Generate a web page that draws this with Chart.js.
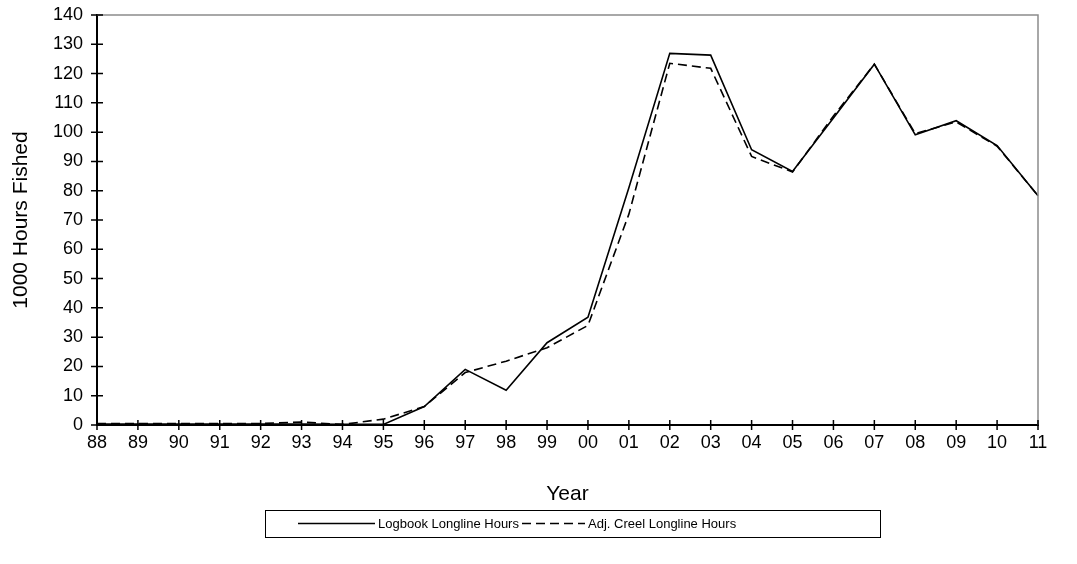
<!DOCTYPE html>
<html>
<head>
<meta charset="utf-8">
<script src="https://cdn.jsdelivr.net/npm/chart.js@4.4.1/dist/chart.umd.min.js"></script>
<style>
  html, body { margin: 0; padding: 0; background: #ffffff; }
  #wrap { width: 1077px; height: 564px; }
</style>
</head>
<body>
<div id="wrap"><canvas id="c" width="1077" height="564"></canvas></div>
<script>
const years = ['88','89','90','91','92','93','94','95','96','97','98','99','00','01','02','03','04','05','06','07','08','09','10','11'];
const logbookHours = [0.3,0.3,0.3,0.3,0.3,0.3,0.2,0.2,6.3,19.0,11.9,28.1,36.8,81.0,126.9,126.3,94.0,86.6,104.8,123.2,99.1,103.9,95.4,78.3];
const creelHours = [0.5,0.5,0.5,0.5,0.5,1.0,0.2,2.0,6.3,17.9,21.8,26.4,34.0,72.0,123.5,121.8,91.7,86.4,105.5,123.2,99.5,103.5,95.2,78.3];
const yMin = 0, yMax = 140, yStep = 10;
const seriesNames = ['Logbook Longline Hours', 'Adj. Creel Longline Hours'];

const FONT = "'Liberation Sans', Arial, sans-serif";

const frame = {
  id: 'frame',
  afterDraw(chart) {
    const ctx = chart.ctx, a = chart.chartArea;
    const xs = chart.scales.x, ys = chart.scales.y;
    ctx.save();
    // gray top/right border
    ctx.strokeStyle = '#8c8c8c';
    ctx.lineWidth = 1.5;
    ctx.beginPath();
    ctx.moveTo(a.left, a.top);
    ctx.lineTo(a.right, a.top);
    ctx.lineTo(a.right, a.bottom);
    ctx.stroke();
    // crossing tick marks
    ctx.strokeStyle = '#000';
    ctx.lineWidth = 1.5;
    ctx.beginPath();
    xs.ticks.forEach((t, i) => {
      const px = xs.getPixelForTick(i);
      ctx.moveTo(px, a.bottom - 5);
      ctx.lineTo(px, a.bottom + 5);
    });
    ys.ticks.forEach((t, i) => {
      const py = ys.getPixelForTick(i);
      ctx.moveTo(a.left - 6, py);
      ctx.lineTo(a.left + 6, py);
    });
    ctx.stroke();

    // legend (drawn from the datasets' own labels and dash styles)
    const box = { left: 265, top: 510, width: 615, height: 27 };
    const cy = box.top + box.height / 2;
    const entries = [
      { lineFrom: 298, lineTo: 375, textX: 378 },
      { lineFrom: 522, lineTo: 585, textX: 588 }
    ];
    ctx.lineWidth = 1;
    ctx.strokeStyle = '#000';
    ctx.setLineDash([]);
    ctx.strokeRect(box.left + 0.5, box.top + 0.5, box.width, box.height);
    ctx.font = '13px ' + FONT;
    ctx.fillStyle = '#000';
    ctx.textBaseline = 'middle';
    ctx.textAlign = 'left';
    chart.data.datasets.forEach((ds, i) => {
      const e = entries[i];
      ctx.save();
      ctx.lineWidth = ds.borderWidth;
      ctx.strokeStyle = ds.borderColor;
      ctx.setLineDash(ds.borderDash || []);
      ctx.beginPath();
      ctx.moveTo(e.lineFrom, cy);
      ctx.lineTo(e.lineTo, cy);
      ctx.stroke();
      ctx.restore();
      ctx.fillText(ds.label, e.textX, cy + 0.5);
    });
    ctx.restore();
  }
};

new Chart(document.getElementById('c'), {
  type: 'line',
  data: {
    labels: years,
    datasets: [
      {
        label: seriesNames[0],
        data: logbookHours,
        borderColor: '#000',
        backgroundColor: '#000',
        borderWidth: 1.6,
        pointRadius: 0,
        tension: 0,
        fill: false
      },
      {
        label: seriesNames[1],
        data: creelHours,
        borderColor: '#000',
        backgroundColor: '#000',
        borderWidth: 1.6,
        borderDash: [9, 5],
        pointRadius: 0,
        tension: 0,
        fill: false
      }
    ]
  },
  options: {
    responsive: false,
    animation: false,
    devicePixelRatio: 1,
    layout: { padding: { left: 9, right: 39, top: 15, bottom: 57 } },
    plugins: {
      tooltip: { enabled: false },
      legend: { display: false }
    },
    scales: {
      x: {
        type: 'category',
        offset: false,
        grid: { display: true, color: 'rgba(0,0,0,0)', drawTicks: true, tickLength: 4 },
        border: { display: true, color: '#000', width: 2 },
        ticks: { color: '#000', font: { family: FONT, size: 18 }, padding: 3, maxRotation: 0, autoSkip: false },
        title: { display: true, text: 'Year', color: '#000', font: { family: FONT, size: 21 }, padding: { top: 10, bottom: 0 } },
        afterFit(s) { s.height = 82; }
      },
      y: {
        min: yMin,
        max: yMax,
        grid: { display: true, color: 'rgba(0,0,0,0)', drawTicks: true, tickLength: 10 },
        border: { display: true, color: '#000', width: 2 },
        ticks: { stepSize: yStep, color: '#000', font: { family: FONT, size: 18 }, padding: 4 },
        title: { display: true, text: '1000 Hours Fished', color: '#000', font: { family: FONT, size: 21 }, padding: { top: 0, bottom: 0 } },
        afterFit(s) { s.width = 88; }
      }
    }
  },
  plugins: [frame]
});
</script>
</body>
</html>
